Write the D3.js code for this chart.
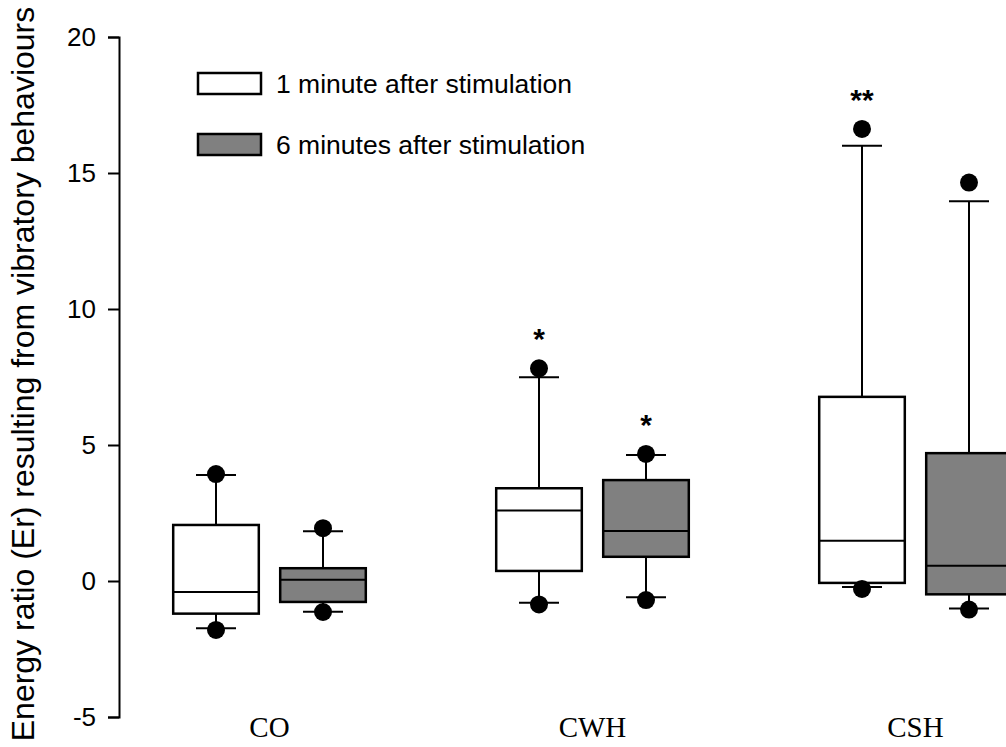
<!DOCTYPE html>
<html>
<head>
<meta charset="utf-8">
<script src="https://cdn.jsdelivr.net/npm/d3@7"></script>
<style>
  body { margin: 0; background: #fff; }
  svg { display: block; }
</style>
</head>
<body>
<svg id="chart" width="1006" height="747"></svg>
<script>
// groups and series
const categories = ['CO', 'CWH', 'CSH'];
const seriesNames = ['1 minute after stimulation', '6 minutes after stimulation'];
const seriesFill = ['#ffffff', '#808080'];

// 1 minute after stimulation
const whiskerLow1 = [-1.74, -0.80, -0.22];
const q1_1 = [-1.20, 0.37, -0.07];
const median1 = [-0.40, 2.59, 1.48];
const q3_1 = [2.06, 3.41, 6.77];
const whiskerHigh1 = [3.90, 7.49, 16.0];
const outlierLow1 = [-1.80, -0.86, -0.29];
const outlierHigh1 = [3.93, 7.82, 16.62];
const stars1 = ['', '*', '**'];

// 6 minutes after stimulation
const whiskerLow6 = [-1.13, -0.60, -1.01];
const q1_6 = [-0.77, 0.89, -0.49];
const median6 = [0.05, 1.84, 0.56];
const q3_6 = [0.47, 3.71, 4.70];
const whiskerHigh6 = [1.83, 4.63, 13.96];
const outlierLow6 = [-1.14, -0.70, -1.05];
const outlierHigh6 = [1.94, 4.67, 14.65];
const stars6 = ['', '*', ''];

const yTicks = [-5, 0, 5, 10, 15, 20];

// build rows for drawing
const boxes = [];
categories.forEach((c, i) => {
  boxes.push({ cat: c, s: 0, lo: whiskerLow1[i], q1: q1_1[i], med: median1[i], q3: q3_1[i], hi: whiskerHigh1[i],
    outs: [outlierLow1[i], outlierHigh1[i]], star: stars1[i] });
  boxes.push({ cat: c, s: 1, lo: whiskerLow6[i], q1: q1_6[i], med: median6[i], q3: q3_6[i], hi: whiskerHigh6[i],
    outs: [outlierLow6[i], outlierHigh6[i]], star: stars6[i] });
});

const svg = d3.select('#chart');
svg.append('rect').attr('width', 1006).attr('height', 747).attr('fill', '#fff');

const sans = 'Arial, "Liberation Sans", sans-serif';
const axisX = 119;
const y = d3.scaleLinear().domain([-5, 20]).range([717, 37]);
const x = d3.scaleBand().domain(categories).range([108, 1077]).padding(0);
const xSub = d3.scaleBand().domain([0, 1]).range([-107, 107]).padding(0);
const boxW = xSub.bandwidth() * 0.8;
const capW = 40;
const cx = d => x(d.cat) + x.bandwidth() / 2 + xSub(d.s) + xSub.bandwidth() / 2;

// Y axis
const yAxis = svg.append('g')
  .attr('transform', `translate(${axisX},0)`)
  .call(d3.axisLeft(y).tickValues(yTicks).tickSize(11).tickPadding(12).tickFormat(d => String(d)));
yAxis.select('.domain').attr('stroke', '#000').attr('stroke-width', 2);
yAxis.selectAll('.tick line').attr('stroke', '#000').attr('stroke-width', 2);
yAxis.selectAll('.tick text')
  .attr('font-family', sans)
  .attr('font-size', 26).attr('fill', '#000');

// Y label
svg.append('text')
  .attr('transform', 'translate(34,374) rotate(-90)')
  .attr('text-anchor', 'middle')
  .attr('font-family', sans)
  .attr('font-size', 32)
  .attr('fill', '#000')
  .text('Energy ratio (Er) resulting from vibratory behaviours');

// category labels
svg.selectAll('.cat')
  .data(categories)
  .enter()
  .append('text')
  .attr('x', d => x(d) + x.bandwidth() / 2)
  .attr('y', 737)
  .attr('text-anchor', 'middle')
  .attr('font-family', '"Liberation Serif", "Times New Roman", serif')
  .attr('font-size', 29)
  .attr('fill', '#000')
  .text(d => d);

const g = svg.append('g');
const bx = g.selectAll('.box').data(boxes).enter().append('g');

// whiskers
bx.append('line')
  .attr('x1', cx).attr('x2', cx)
  .attr('y1', d => y(d.hi)).attr('y2', d => y(d.q3))
  .attr('stroke', '#000').attr('stroke-width', 2);
bx.append('line')
  .attr('x1', cx).attr('x2', cx)
  .attr('y1', d => y(d.q1)).attr('y2', d => y(d.lo))
  .attr('stroke', '#000').attr('stroke-width', 2);

// caps
['hi', 'lo'].forEach(k => {
  bx.append('line')
    .attr('x1', d => cx(d) - capW / 2).attr('x2', d => cx(d) + capW / 2)
    .attr('y1', d => y(d[k])).attr('y2', d => y(d[k]))
    .attr('stroke', '#000').attr('stroke-width', 2);
});

// boxes
bx.append('rect')
  .attr('x', d => cx(d) - boxW / 2)
  .attr('width', boxW)
  .attr('y', d => y(d.q3))
  .attr('height', d => y(d.q1) - y(d.q3))
  .attr('fill', d => seriesFill[d.s])
  .attr('stroke', '#000').attr('stroke-width', 2.5);

// medians
bx.append('line')
  .attr('x1', d => cx(d) - boxW / 2).attr('x2', d => cx(d) + boxW / 2)
  .attr('y1', d => y(d.med)).attr('y2', d => y(d.med))
  .attr('stroke', '#000').attr('stroke-width', 2);

// outliers
bx.selectAll('circle')
  .data(d => d.outs.map(v => ({ v, c: cx(d) })))
  .enter()
  .append('circle')
  .attr('cx', d => d.c)
  .attr('cy', d => y(d.v))
  .attr('r', 9)
  .attr('fill', '#000');

// significance stars
bx.append('text')
  .attr('x', cx)
  .attr('y', d => y(d.outs[1]) - 19)
  .attr('text-anchor', 'middle')
  .attr('font-family', sans)
  .attr('font-weight', 'bold')
  .attr('font-size', 30)
  .attr('fill', '#000')
  .text(d => d.star);

// legend
const leg = svg.append('g').attr('transform', 'translate(198,73)');
seriesNames.forEach((name, i) => {
  leg.append('rect')
    .attr('x', 0).attr('y', i * 61)
    .attr('width', 63).attr('height', 21)
    .attr('fill', seriesFill[i])
    .attr('stroke', '#000').attr('stroke-width', 2.5);
  leg.append('text')
    .attr('x', 78).attr('y', i * 61 + 20)
    .attr('font-family', sans)
    .attr('font-size', 26.5)
    .attr('fill', '#000')
    .text(name);
});
</script>
</body>
</html>
